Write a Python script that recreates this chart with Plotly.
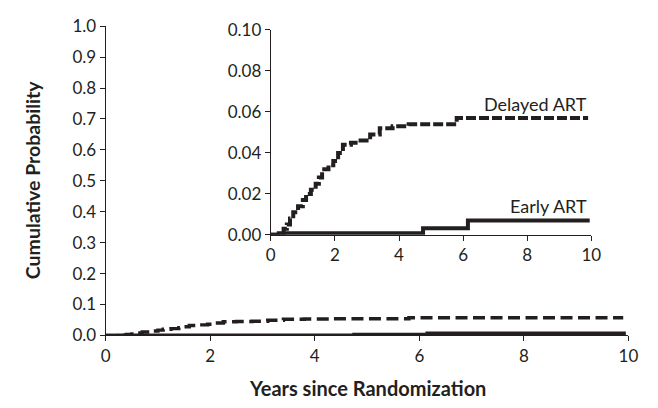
import plotly.graph_objects as go

# Kaplan-Meier style cumulative probability curves (years since randomization)
delayed_years = [0, 0.25, 0.4, 0.5, 0.6, 0.7, 0.85, 1.0, 1.1, 1.25, 1.4, 1.5, 1.6,
                 1.8, 1.95, 2.1, 2.25, 2.5, 2.8, 3.1, 3.4, 3.8, 4.3, 5.8, 9.9]
delayed_prob = [0, 0.001, 0.003, 0.005, 0.008, 0.011, 0.014, 0.017, 0.020, 0.022,
                0.025, 0.028, 0.032, 0.034, 0.036, 0.040, 0.044, 0.045, 0.046,
                0.049, 0.052, 0.053, 0.054, 0.057, 0.057]

early_years = [0, 0.25, 4.75, 6.15, 9.95]
early_prob = [0, 0.0008, 0.0032, 0.007, 0.007]

main_yticks = [0.0, 0.1, 0.2, 0.3, 0.4, 0.5, 0.6, 0.7, 0.8, 0.9, 1.0]
inset_yticks = [0.00, 0.02, 0.04, 0.06, 0.08, 0.10]
xticks = [0, 2, 4, 6, 8, 10]

W, H = 658, 408
FONT = "Lato"
INK = "#231f20"

fig = go.Figure()

# main panel (x, y) and zoomed inset (x2, y2) share the same curves
panels = [("x", "y", "12px,5.5px", 3.4), ("x2", "y2", "10px,3px", 4.0)]
for xa, ya, dash, lw in panels:
    fig.add_trace(go.Scatter(x=delayed_years, y=delayed_prob, mode="lines",
                             line=dict(color=INK, width=lw, dash=dash, shape="hv"),
                             xaxis=xa, yaxis=ya, showlegend=False, hoverinfo="skip"))
    fig.add_trace(go.Scatter(x=early_years, y=early_prob, mode="lines",
                             line=dict(color=INK, width=lw, shape="hv"),
                             xaxis=xa, yaxis=ya, showlegend=False, hoverinfo="skip"))

axis_common = dict(showline=True, linecolor=INK, linewidth=1.2, ticks="outside",
                   ticklen=5, tickwidth=1.2, tickcolor=INK, showgrid=False,
                   zeroline=False, tickfont=dict(family=FONT, size=17, color=INK))

fig.update_layout(
    width=W, height=H,
    margin=dict(l=0, r=0, t=0, b=0),
    paper_bgcolor="white", plot_bgcolor="rgba(0,0,0,0)",
    xaxis=dict(domain=[103 / W, 638 / W], range=[0, 10], tickvals=xticks,
               anchor="y", **axis_common),
    yaxis=dict(domain=[(H - 342) / H, (H - 16) / H], range=[0, 1],
               tickvals=main_yticks, tickformat=".1f", anchor="x", **axis_common),
    xaxis2=dict(domain=[272 / W, 600 / W], range=[0, 10], tickvals=xticks,
                anchor="y2", **axis_common),
    yaxis2=dict(domain=[(H - 236) / H, (H - 20) / H], range=[0, 0.1],
                tickvals=inset_yticks, tickformat=".2f", anchor="x2",
                **axis_common),
)

# axis titles
fig.add_annotation(x=371 / W, y=(H - 397) / H, xref="paper", yref="paper",
                   text="<b>Years since Randomization</b>", showarrow=False,
                   xanchor="center", yanchor="middle",
                   font=dict(family=FONT, size=20, color=INK))
fig.add_annotation(x=28 / W, y=(H - 178) / H, xref="paper", yref="paper",
                   text="<b>Cumulative Probability</b>", showarrow=False,
                   textangle=-90, xanchor="center", yanchor="middle",
                   font=dict(family=FONT, size=19.5, color=INK))

# curve labels inside the inset
fig.add_annotation(x=9.94, y=0.0639, xref="x2", yref="y2", text="Delayed ART",
                   showarrow=False, xanchor="right", yanchor="middle",
                   font=dict(family=FONT, size=18, color=INK))
fig.add_annotation(x=9.94, y=0.0143, xref="x2", yref="y2", text="Early ART",
                   showarrow=False, xanchor="right", yanchor="middle",
                   font=dict(family=FONT, size=18, color=INK))

fig.write_html("out.html")
